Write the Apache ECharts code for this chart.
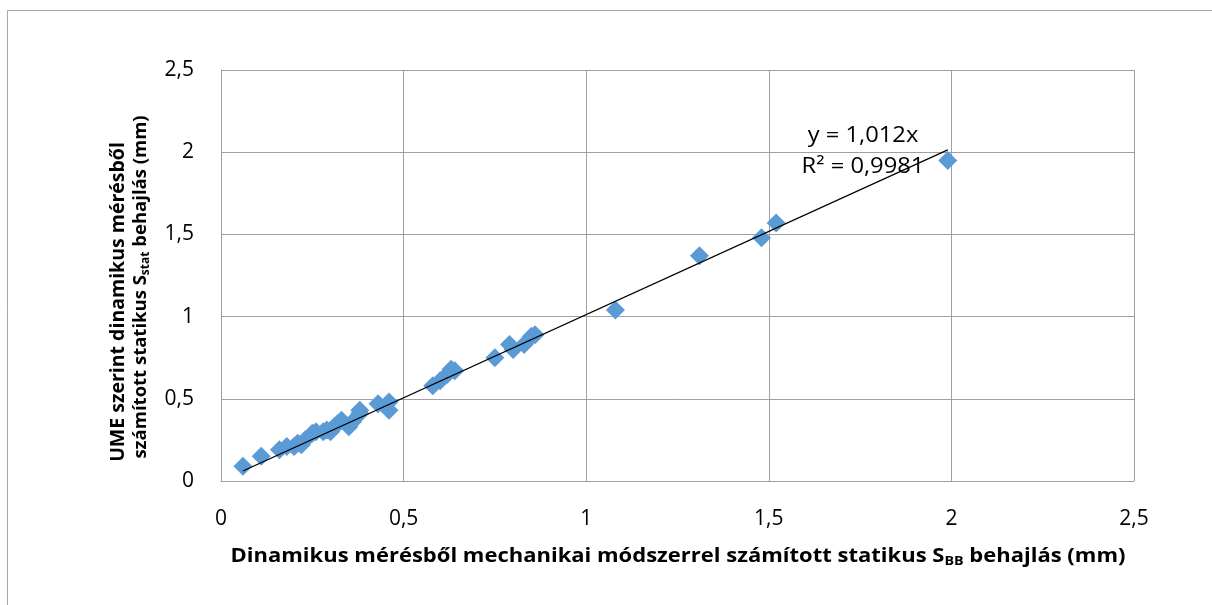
<!DOCTYPE html>
<html>
<head>
<meta charset="utf-8">
<script src="https://cdn.jsdelivr.net/npm/echarts@6/dist/echarts.min.js"></script>
<style>
  html, body { margin: 0; padding: 0; background: #fff; }
  #chart { width: 1212px; height: 605px; }
</style>
</head>
<body>
<div id="chart"></div>
<script>
// Computed static deflection: mechanical method (x) vs. UME method (y), mm
const xValues = [0.06, 0.11, 0.16, 0.18, 0.20, 0.21, 0.22, 0.23, 0.25, 0.26, 0.28, 0.29, 0.30, 0.31, 0.32, 0.33, 0.35, 0.36, 0.38, 0.38, 0.43, 0.46, 0.46, 0.58, 0.60, 0.62, 0.63, 0.64, 0.75, 0.79, 0.80, 0.83, 0.85, 0.86, 1.08, 1.31, 1.48, 1.52, 1.99];
const yValues = [0.09, 0.15, 0.19, 0.21, 0.21, 0.23, 0.22, 0.25, 0.29, 0.30, 0.30, 0.31, 0.30, 0.33, 0.35, 0.37, 0.33, 0.36, 0.41, 0.43, 0.47, 0.43, 0.48, 0.58, 0.61, 0.65, 0.68, 0.67, 0.75, 0.83, 0.80, 0.83, 0.88, 0.89, 1.04, 1.37, 1.48, 1.57, 1.95];
const axisTicks = [0, 0.5, 1, 1.5, 2, 2.5];
const trendSlope = 1.012;
const trendR2 = '0,9981';

const FONT = '"Open Sans", "Noto Sans", sans-serif';
const fmt = v => String(v).replace('.', ',');

const points = xValues.map((x, i) => [x, yValues[i]]);
const xMin = Math.min(...xValues);
const xMax = Math.max(...xValues);
const trend = [[xMin, trendSlope * xMin], [xMax, trendSlope * xMax]];

const chart = echarts.init(document.getElementById('chart'), null, { renderer: 'canvas' });

const axisCommon = {
  min: axisTicks[0],
  max: axisTicks[axisTicks.length - 1],
  interval: axisTicks[1] - axisTicks[0],
  axisLine: { show: true, lineStyle: { color: '#a0a0a0', width: 1 } },
  axisTick: { show: false },
  splitLine: { show: true, lineStyle: { color: '#a0a0a0', width: 1 } },
  axisLabel: { color: '#000', fontFamily: FONT, fontSize: 21, formatter: fmt }
};

chart.setOption({
  animation: false,
  backgroundColor: '#fff',
  grid: { left: 221, top: 70, right: 78, bottom: 124, containLabel: false },
  xAxis: Object.assign({ type: 'value' }, axisCommon, {
    axisLabel: Object.assign({}, axisCommon.axisLabel, { margin: 28 })
  }),
  yAxis: Object.assign({ type: 'value' }, axisCommon, {
    axisLabel: Object.assign({}, axisCommon.axisLabel, { margin: 27 })
  }),
  series: [
    {
      type: 'scatter',
      data: points,
      symbol: 'diamond',
      symbolSize: [19, 19],
      itemStyle: { color: '#5b9bd5', opacity: 1 },
      z: 3
    },
    {
      type: 'line',
      data: trend,
      symbol: 'none',
      lineStyle: { color: '#000', width: 1.3 },
      z: 4
    }
  ],
  graphic: [
    {
      type: 'rect',
      shape: { x: 7.5, y: 10.5, width: 1400, height: 800 },
      style: { fill: 'none', stroke: '#a6a6a6', lineWidth: 1 },
      silent: true
    },
    {
      type: 'text',
      x: 863, y: 136,
      scaleX: 1.13,
      style: {
        text: 'y = 1,012x',
        fontFamily: FONT, fontSize: 21, fill: '#000',
        align: 'center', verticalAlign: 'middle'
      },
      z: 10
    },
    {
      type: 'text',
      x: 863, y: 167,
      scaleX: 1.13,
      style: {
        text: 'R² = ' + trendR2,
        fontFamily: FONT, fontSize: 21, fill: '#000',
        align: 'center', verticalAlign: 'middle'
      },
      z: 10
    },
    {
      type: 'text',
      x: 678, y: 556,
      scaleX: 1.1,
      style: {
        text: '{t|Dinamikus mérésből mechanikai módszerrel számított statikus S}{s|BB}{t| behajlás (mm)}',
        align: 'center', verticalAlign: 'middle',
        rich: {
          t: { fontFamily: FONT, fontSize: 20, fontWeight: 'bold', fill: '#000' },
          s: { fontFamily: FONT, fontSize: 13, fontWeight: 'bold', fill: '#000', padding: [10, 0, 0, 0] }
        }
      },
      z: 10
    },
    {
      type: 'text',
      x: 118, y: 302,
      rotation: Math.PI / 2,
      style: {
        text: 'UME szerint dinamikus mérésből',
        fontFamily: FONT, fontSize: 19.5, fontWeight: 'bold', fill: '#000',
        align: 'center', verticalAlign: 'middle'
      },
      z: 10
    },
    {
      type: 'text',
      x: 141, y: 287,
      rotation: Math.PI / 2,
      style: {
        text: '{t|számított statikus S}{s|stat}{t| behajlás (mm)}',
        align: 'center', verticalAlign: 'middle',
        rich: {
          t: { fontFamily: FONT, fontSize: 18.5, fontWeight: 'bold', fill: '#000' },
          s: { fontFamily: FONT, fontSize: 12, fontWeight: 'bold', fill: '#000', padding: [10, 0, 0, 0] }
        }
      },
      z: 10
    }
  ]
});
</script>
</body>
</html>
